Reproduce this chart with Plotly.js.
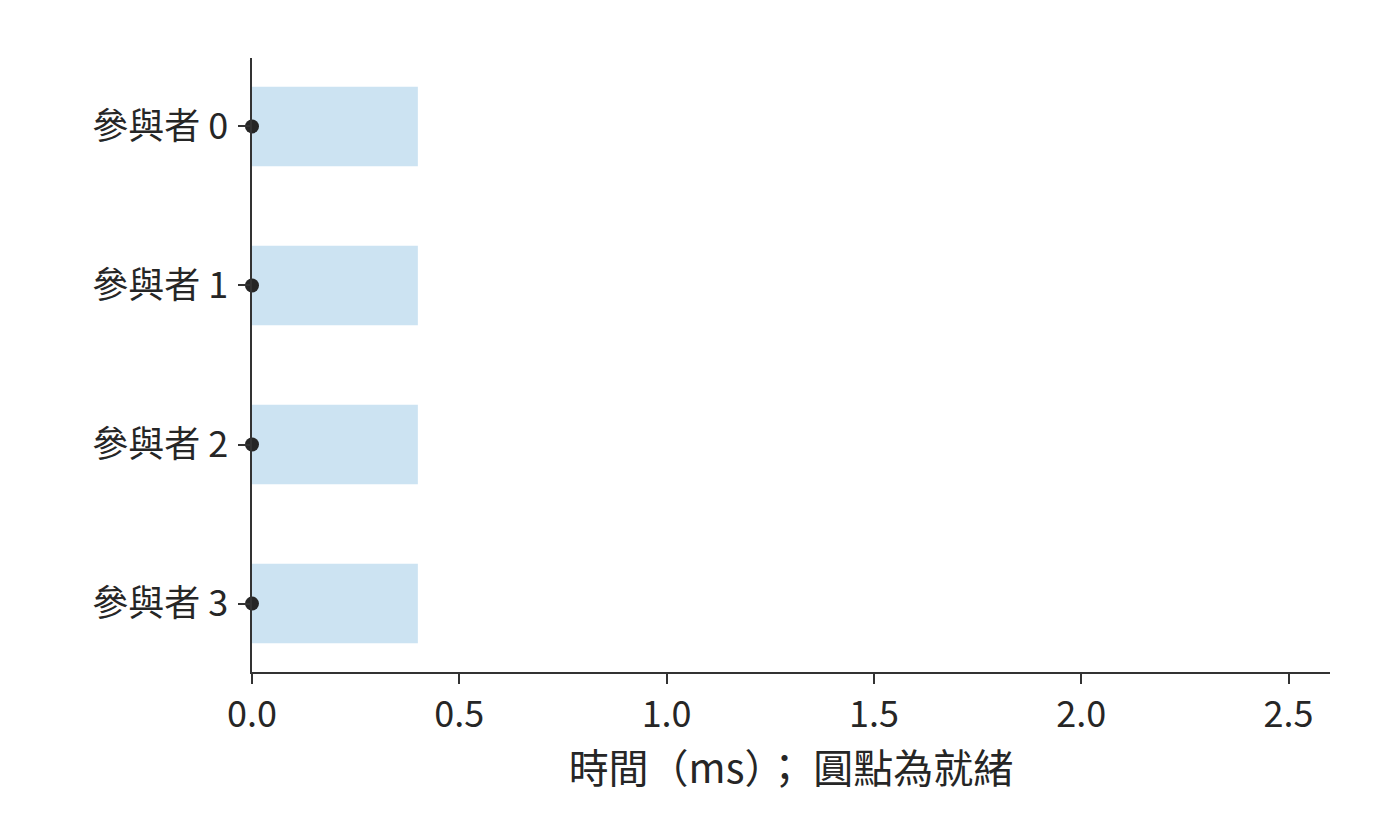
<!DOCTYPE html>
<html>
<head>
<meta charset="utf-8">
<script src="https://cdn.plot.ly/plotly-3.0.1.min.js"></script>
<style>
  html, body { margin: 0; padding: 0; background: #fff; }
  #chart { width: 1400px; height: 840px; }
</style>
</head>
<body>
<div id="chart"></div>
<script>
var participants = ['參與者 0', '參與者 1', '參與者 2', '參與者 3'];
var barStart = [0, 0, 0, 0];
var barLength = [0.4, 0.4, 0.4, 0.4];
var readyTime = [0, 0, 0, 0];

var fontFamily = 'Noto Sans CJK TC';
var inkColor = '#262626';

var bars = {
  type: 'bar',
  orientation: 'h',
  y: participants,
  x: barLength,
  base: barStart,
  width: 0.5,
  marker: {
    color: '#cce3f2',
    line: { width: 0 }
  },
  hoverinfo: 'skip'
};

var readyDots = {
  type: 'scatter',
  mode: 'markers',
  y: participants,
  x: readyTime,
  cliponaxis: false,
  marker: {
    size: 14,
    color: inkColor
  },
  hoverinfo: 'skip'
};

var layout = {
  width: 1400,
  height: 840,
  showlegend: false,
  margin: { l: 252, r: 70, t: 58, b: 168, pad: 0 },
  paper_bgcolor: '#ffffff',
  plot_bgcolor: '#ffffff',
  font: { family: fontFamily, color: inkColor, size: 36 },
  xaxis: {
    range: [0, 2.6],
    tickvals: [0, 0.5, 1, 1.5, 2, 2.5],
    ticktext: ['0.0', '0.5', '1.0', '1.5', '2.0', '2.5'],
    showgrid: false,
    zeroline: false,
    showline: true,
    linecolor: '#333333',
    linewidth: 1.6,
    ticks: 'outside',
    ticklen: 10,
    tickwidth: 2,
    tickcolor: '#333333',
    tickfont: { family: fontFamily, size: 36, color: inkColor },
    title: {
      text: '時間（ms）； 圓點為就緒',
      font: { family: fontFamily, size: 40, color: inkColor },
      standoff: 10
    }
  },
  yaxis: {
    type: 'category',
    categoryorder: 'array',
    categoryarray: participants,
    range: [3.43, -0.43],
    showgrid: false,
    zeroline: false,
    showline: true,
    linecolor: '#333333',
    linewidth: 1.6,
    ticks: 'outside',
    ticklen: 12,
    tickwidth: 2,
    tickcolor: '#333333',
    tickfont: { family: fontFamily, size: 36, color: inkColor },
    ticklabelstandoff: 3
  }
};

Plotly.newPlot('chart', [bars, readyDots], layout, { displayModeBar: false, staticPlot: true });
</script>
</body>
</html>
